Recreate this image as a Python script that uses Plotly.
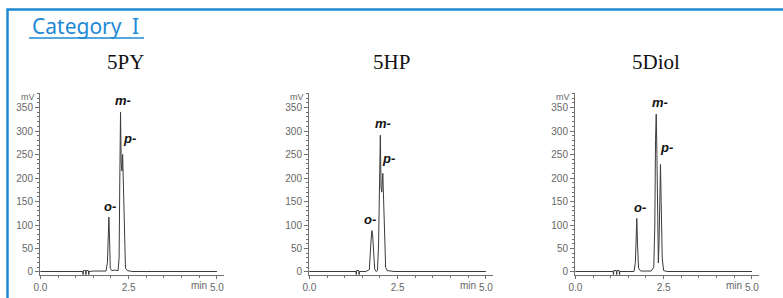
import plotly.graph_objects as go

# ---------------- data ----------------
samples = ["5PY", "5HP", "5Diol"]
category_label = "Category\u2002I"

t_5py = [0, 1.20, 1.21, 1.22, 1.28, 1.29, 1.30, 1.36, 1.37, 1.38, 1.5, 1.86, 1.90, 1.92, 1.94, 1.96, 1.98, 2.02,
         2.10, 2.20, 2.23, 2.25, 2.27, 2.29, 2.31, 2.33, 2.35, 2.38, 2.41, 2.46, 2.6, 3.0, 5.0]
mv_5py = [1, 1, -6, 3, 3, -6, 3, 3, -6, 1, 2, 2, 20, 80, 117, 70, 8, 3,
          4, 3, 30, 200, 340, 230, 215, 250, 180, 40, 8, 3, 1, 1, 1]

t_5hp = [0, 1.32, 1.33, 1.34, 1.40, 1.41, 1.42, 1.6, 1.70, 1.74, 1.77, 1.79, 1.82, 1.85, 1.89,
         1.93, 1.96, 1.99, 2.01, 2.03, 2.05, 2.08, 2.10, 2.13, 2.16, 2.20, 2.4, 5.0]
mv_5hp = [1, 1, -6, 3, 3, -6, 1, 1, 5, 60, 88, 80, 30, 6, 1,
          3, 60, 220, 291, 180, 170, 210, 160, 60, 10, 3, 1, 1]

t_5diol = [0, 1.07, 1.08, 1.09, 1.16, 1.17, 1.18, 1.24, 1.25, 1.26, 1.5, 1.66, 1.70, 1.72, 1.74, 1.76, 1.79,
           1.85, 2.15, 2.22, 2.25, 2.27, 2.29, 2.31, 2.33, 2.35, 2.37, 2.39, 2.41, 2.43, 2.46, 2.50, 2.6, 5.0]
mv_5diol = [1, 1, -6, 3, 3, -6, 3, 3, -6, 1, 1, 1, 20, 80, 114, 60, 8,
            2, 2, 10, 100, 280, 336, 250, 80, 19, 60, 180, 229, 150, 30, 3, 1, 1]

peak_labels = ["o-", "m-", "p-"]
label_t_5py = [1.98, 2.34, 2.53]
label_mv_5py = [139, 365, 284]
label_t_5hp = [1.72, 2.08, 2.25]
label_mv_5hp = [112, 316, 242]
label_t_5diol = [1.82, 2.39, 2.58]
label_mv_5diol = [138, 360, 265]

x_tick_vals = [0, 2.5, 5.0]
x_tick_text = ["0.0", "2.5", "5.0"]
y_tick_vals = [0, 50, 100, 150, 200, 250, 300, 350]
y_tick_text = ["0", "50", "100", "150", "200", "250", "300", "350"]
x_unit = "min"
y_unit = "mV"

# ---------------- figure ----------------
W, H = 783, 298
series = [(t_5py, mv_5py, label_t_5py, label_mv_5py),
          (t_5hp, mv_5hp, label_t_5hp, label_mv_5hp),
          (t_5diol, mv_5diol, label_t_5diol, label_mv_5diol)]
x_domains_px = [(40, 224), (309, 493), (575, 759)]
title_x_px = [125, 391, 656]
y_dom = [1 - 274.8 / H, 1 - 93 / H]

AX = "#707070"
TICKFONT = dict(family="Liberation Sans, Arial, sans-serif", size=10, color="#666666")

fig = go.Figure()
layout = dict(width=W, height=H, autosize=False, margin=dict(l=0, r=0, t=0, b=0, pad=0),
              paper_bgcolor="white", plot_bgcolor="white", showlegend=False)
annotations = []

for i, (t, mv, lt, lmv) in enumerate(series):
    n = "" if i == 0 else str(i + 1)
    fig.add_trace(go.Scatter(x=t, y=mv, mode="lines", xaxis="x" + n, yaxis="y" + n,
                             line=dict(color="#3a3a3a", width=1), hoverinfo="skip"))
    a, b = x_domains_px[i]
    layout["xaxis" + n] = dict(domain=[a / W, b / W], range=[-0.01, 5.2], anchor="y" + n,
                               showline=True, linecolor=AX, linewidth=1, ticks="outside",
                               ticklen=3, tickcolor=AX, tickvals=x_tick_vals, ticktext=x_tick_text,
                               tickfont=TICKFONT, showgrid=False, zeroline=False, fixedrange=True,
                               automargin=False,
                               minor=dict(dtick=0.5, tick0=0, ticks="outside", ticklen=2,
                                          tickcolor=AX, showgrid=False))
    layout["yaxis" + n] = dict(domain=y_dom, range=[-6, 381], anchor="x" + n,
                               showline=True, linecolor=AX, linewidth=1, ticks="outside",
                               ticklen=4, tickcolor=AX, tickvals=y_tick_vals, ticktext=y_tick_text,
                               tickfont=TICKFONT, showgrid=False, zeroline=False, fixedrange=True,
                               automargin=False,
                               minor=dict(dtick=10, tick0=0, ticks="outside", ticklen=2,
                                          tickcolor=AX, showgrid=False))
    # peak labels
    for lab, xx, yy in zip(peak_labels, lt, lmv):
        annotations.append(dict(x=xx, y=yy, xref="x" + n, yref="y" + n,
                                text="<b><i>%s</i></b>" % lab, showarrow=False,
                                font=dict(family="Liberation Sans, Arial, sans-serif", size=13, color="#111111")))
    # units
    annotations.append(dict(x=0, y=1, xref="x%s domain" % n, yref="y%s domain" % n,
                            xanchor="right", yanchor="middle", xshift=-3, yshift=-4,
                            text=y_unit, showarrow=False,
                            font=dict(family="Liberation Sans, Arial, sans-serif", size=9, color="#666666")))
    annotations.append(dict(x=5.0, y=1 - 285 / H, xref="x" + n, yref="paper",
                            xanchor="right", yanchor="middle", xshift=-8,
                            text=x_unit, showarrow=False,
                            font=dict(family="Liberation Sans, Arial, sans-serif", size=10, color="#666666")))
    # sample title
    annotations.append(dict(x=title_x_px[i] / W, y=1 - 62 / H, xref="paper", yref="paper",
                            xanchor="center", yanchor="middle", text=samples[i], showarrow=False,
                            font=dict(family="Liberation Serif, Times New Roman, serif", size=21, color="#111111")))

BLUE = "#1e88d4"
annotations.append(dict(x=30 / W, y=1 - 26 / H, xref="paper", yref="paper", xanchor="left",
                        yanchor="middle", text=category_label, showarrow=False,
                        font=dict(family="Noto Sans, sans-serif", size=21, color=BLUE)))

layout["annotations"] = annotations
layout["shapes"] = [
    dict(type="rect", xref="paper", yref="paper", x0=7.5 / W, x1=1.05, y0=-0.1, y1=1 - 9.5 / H,
         line=dict(color=BLUE, width=2.5), fillcolor="rgba(0,0,0,0)", layer="below"),
    dict(type="line", xref="paper", yref="paper", x0=29 / W, x1=144 / W, y0=1 - 38 / H, y1=1 - 38 / H,
         line=dict(color=BLUE, width=1.3)),
]
fig.update_layout(**layout)
fig.write_html("out.html", config={"displayModeBar": False, "staticPlot": True},
               post_script="document.body.style.margin='0';document.body.style.overflow='hidden';")
